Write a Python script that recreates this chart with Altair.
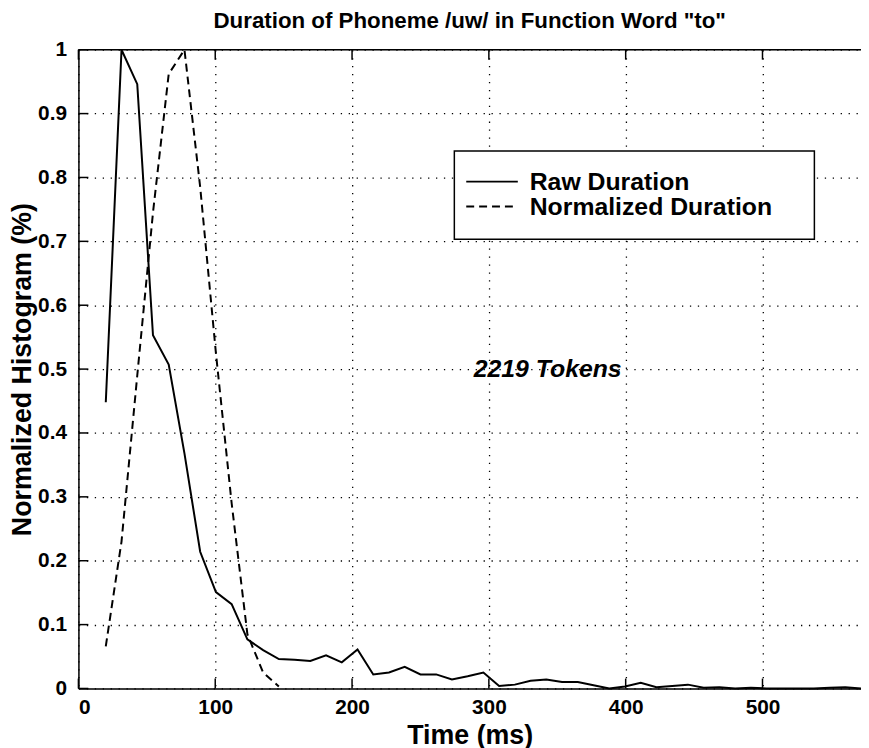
import altair as alt
import pandas as pd

# ---- data ----
raw_x = [20, 31.5, 43, 54.5, 66, 77.5, 89, 100.5, 112, 123.5, 135, 146.5, 158, 169.5,
         181, 192.5, 204, 215.5, 227, 238.5, 250, 261.5, 273, 284.5, 296, 307.5, 319,
         330.5, 342, 353.5, 365, 376.5, 388, 399.5, 411, 422.5, 434, 445.5, 457, 468.5,
         480, 491.5, 503, 514.5, 526, 537.5, 549, 560.5, 572]
raw_y = [0.448, 1.000, 0.946, 0.553, 0.507, 0.368, 0.214, 0.151, 0.132, 0.077, 0.060,
         0.046, 0.045, 0.043, 0.052, 0.041, 0.061, 0.022, 0.025, 0.034, 0.022, 0.022,
         0.014, 0.019, 0.025, 0.004, 0.006, 0.012, 0.014, 0.010, 0.010, 0.005, 0.000,
         0.003, 0.009, 0.002, 0.004, 0.006, 0.001, 0.002, 0.000, 0.001, 0.000, 0.000,
         0.000, 0.000, 0.001, 0.002, 0.000]

norm_x = [20, 31.5, 43, 54.5, 66, 77.5, 89, 100.5, 112, 123.5, 135, 146.5]
norm_y = [0.066, 0.23, 0.49, 0.745, 0.962, 1.0, 0.785, 0.525, 0.29, 0.085, 0.025, 0.003]

x_ticks = [0, 100, 200, 300, 400, 500]
y_ticks = [0, 0.1, 0.2, 0.3, 0.4, 0.5, 0.6, 0.7, 0.8, 0.9, 1]

title_text = 'Duration of Phoneme /uw/ in Function Word "to"'
x_title = "Time (ms)"
y_title = "Normalized Histogram (%)"
legend_labels = ["Raw Duration", "Normalized Duration"]
annot_text = "2219 Tokens"
annot_x = [343]
annot_y = [0.5]

FONT = "Liberation Sans"
W, H = 789, 644
X_MAX = 572

raw_df = pd.DataFrame({"x": raw_x, "y": raw_y})
norm_df = pd.DataFrame({"x": norm_x, "y": norm_y})
xt_df = pd.DataFrame({"t": x_ticks})
yt_df = pd.DataFrame({"t": y_ticks})
one_df = pd.DataFrame({"k": [0]})
annot_df = pd.DataFrame({"x": annot_x, "y": annot_y, "label": [annot_text]})

xs = alt.Scale(domain=[0, X_MAX], nice=False, zero=False)
ys = alt.Scale(domain=[0, 1], nice=False, zero=False)

grid_axis_kw = dict(grid=True, gridColor="black", gridDash=[1.3, 6.7], gridWidth=1.3,
                    gridOpacity=1, ticks=False, domain=True, domainColor="black",
                    domainWidth=1.5, labelFont=FONT, labelFontWeight="bold",
                    labelFontSize=21, labelColor="black", titleFont=FONT,
                    titleFontWeight="bold", titleColor="black")

raw_line = alt.Chart(raw_df).mark_line(color="black", strokeWidth=2).encode(
    x=alt.X("x:Q", scale=xs,
            axis=alt.Axis(values=x_ticks, format="d", title=x_title,
                          labelPadding=8, titlePadding=5, titleFontSize=27,
                          **grid_axis_kw)),
    y=alt.Y("y:Q", scale=ys,
            axis=alt.Axis(values=y_ticks, format="~g", title=y_title,
                          labelPadding=12, titlePadding=1, titleFontSize=27,
                          **grid_axis_kw)),
)

norm_line = alt.Chart(norm_df).mark_line(color="black", strokeWidth=2,
                                         strokeDash=[8, 5]).encode(
    x=alt.X("x:Q", scale=xs), y=alt.Y("y:Q", scale=ys))

# inward tick marks (bottom, top, left)
bot_ticks = alt.Chart(xt_df).mark_rule(color="black", strokeWidth=1.5).encode(
    x=alt.X("t:Q", scale=xs), y=alt.value(H), y2=alt.value(H - 10))
top_ticks = alt.Chart(xt_df).mark_rule(color="black", strokeWidth=1.5).encode(
    x=alt.X("t:Q", scale=xs), y=alt.value(0), y2=alt.value(10))
left_ticks = alt.Chart(yt_df).mark_rule(color="black", strokeWidth=1.5).encode(
    y=alt.Y("t:Q", scale=ys), x=alt.value(0), x2=alt.value(10))
top_border = alt.Chart(one_df).mark_rule(color="black", strokeWidth=1.5).encode(
    x=alt.value(0), x2=alt.value(W), y=alt.value(0))

annot = alt.Chart(annot_df).mark_text(font=FONT, fontSize=25, fontWeight="bold",
                                      fontStyle="italic", color="black",
                                      align="center", baseline="middle").encode(
    x=alt.X("x:Q", scale=xs), y=alt.Y("y:Q", scale=ys), text="label:N")

# legend box
leg_box = alt.Chart(one_df).mark_rect(fill="white", stroke="black",
                                      strokeWidth=1.5).encode(
    x=alt.value(379), x2=alt.value(742), y=alt.value(102), y2=alt.value(191))
leg_solid = alt.Chart(one_df).mark_rule(color="black", strokeWidth=2).encode(
    x=alt.value(391), x2=alt.value(443), y=alt.value(133))
leg_dash = alt.Chart(one_df).mark_rule(color="black", strokeWidth=2,
                                       strokeDash=[8, 5]).encode(
    x=alt.value(391), x2=alt.value(443), y=alt.value(158))
leg_t1 = alt.Chart(one_df).mark_text(font=FONT, fontSize=25, fontWeight="bold",
                                     color="black", align="left",
                                     baseline="middle").encode(
    x=alt.value(455), y=alt.value(133), text=alt.value(legend_labels[0]))
leg_t2 = alt.Chart(one_df).mark_text(font=FONT, fontSize=25, fontWeight="bold",
                                     color="black", align="left",
                                     baseline="middle").encode(
    x=alt.value(455), y=alt.value(159), text=alt.value(legend_labels[1]))

chart = alt.layer(
    raw_line, norm_line, bot_ticks, top_ticks, left_ticks, top_border, annot,
    leg_box, leg_solid, leg_dash, leg_t1, leg_t2
).properties(
    width=W, height=H,
    title=alt.TitleParams(title_text, font=FONT, fontSize=22.5, fontWeight="bold",
                          color="black", anchor="middle", offset=6),
    autosize=alt.AutoSizeParams(type="none"),
    padding={"left": 71, "top": 39, "right": 0, "bottom": 62},
).configure_view(stroke=None).configure(background="white")

chart.save("out.html", embed_options={"renderer": "svg", "actions": False})
